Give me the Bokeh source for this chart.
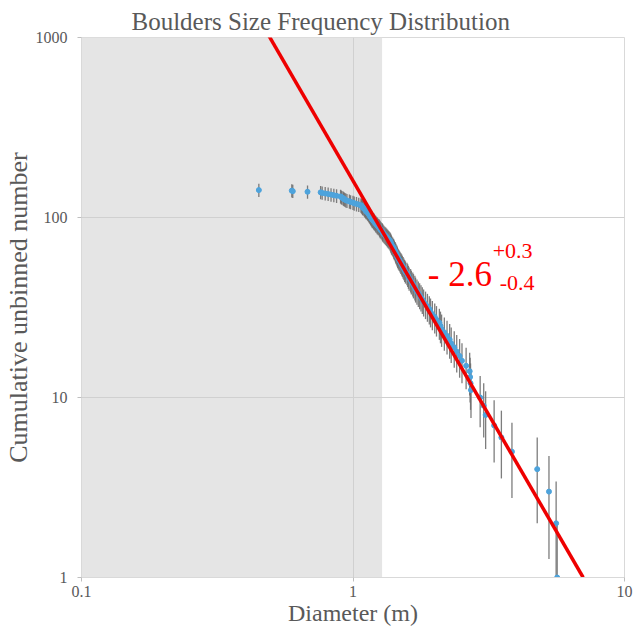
import numpy as np
from bokeh.plotting import figure
from bokeh.models import (BoxAnnotation, FixedTicker, CustomJSTickFormatter,
                          ColumnDataSource, Range1d)
from bokeh.core.properties import value
from bokeh.embed import file_html
from bokeh.resources import INLINE

# Boulder diameters (m), sorted from largest to smallest
diameter = [
    5.65, 5.60, 5.27, 4.77, 3.85, 3.52, 3.31, 3.08, 3.03, 2.94,
    2.72, 2.71, 2.70, 2.69, 2.61, 2.52, 2.47, 2.41, 2.36, 2.30,
    2.27, 2.22, 2.17, 2.12, 2.10, 2.08, 2.03, 2.00, 1.96, 1.93,
    1.91, 1.88, 1.85, 1.82, 1.80, 1.78, 1.76, 1.74, 1.72, 1.70,
    1.69, 1.67, 1.66, 1.64, 1.63, 1.61, 1.60, 1.59, 1.58, 1.56,
    1.55, 1.54, 1.53, 1.52, 1.51, 1.50, 1.49, 1.48, 1.47, 1.46,
    1.455, 1.45, 1.44, 1.435, 1.43, 1.42, 1.415, 1.41, 1.40, 1.39,
    1.385, 1.38, 1.375, 1.37, 1.36, 1.35, 1.34, 1.33, 1.32, 1.31,
    1.30, 1.29, 1.285, 1.28, 1.27, 1.26, 1.255, 1.25, 1.24, 1.23,
    1.225, 1.215, 1.21, 1.20, 1.195, 1.19, 1.18, 1.175, 1.17, 1.165,
    1.16, 1.155, 1.15, 1.145, 1.14, 1.135, 1.13, 1.12, 1.115, 1.11,
    1.105, 1.10, 1.09, 1.085, 1.08, 1.075, 1.07, 1.05, 1.03, 1.01,
    1.00, 0.98, 0.97, 0.95, 0.94, 0.93, 0.925, 0.92, 0.91, 0.905,
    0.90, 0.87, 0.85, 0.83, 0.81, 0.79, 0.77, 0.76, 0.68, 0.60,
    0.595, 0.45,
]
# Cumulative unbinned number (rank)
cumulative = [
    1, 2, 3, 4, 5, 6, 7, 8, 9, 10,
    11, 12, 13, 14, 15, 16, 17, 18, 19, 20,
    21, 22, 23, 24, 25, 26, 27, 28, 29, 30,
    31, 32, 33, 34, 35, 36, 37, 38, 39, 40,
    41, 42, 43, 44, 45, 46, 47, 48, 49, 50,
    51, 52, 53, 54, 55, 56, 57, 58, 59, 60,
    61, 62, 63, 64, 65, 66, 67, 68, 69, 70,
    71, 72, 73, 74, 75, 76, 77, 78, 79, 80,
    81, 82, 83, 84, 85, 86, 87, 88, 89, 90,
    91, 92, 93, 94, 95, 96, 97, 98, 99, 100,
    101, 102, 103, 104, 105, 106, 107, 108, 109, 110,
    111, 112, 113, 114, 115, 116, 117, 118, 119, 120,
    121, 122, 123, 124, 125, 126, 127, 128, 129, 130,
    131, 132, 133, 134, 135, 136, 137, 138, 139, 140,
    141, 142,
]

# Power-law fit N = A * D^slope, with its uncertainty
fit_slope = -2.6
fit_amplitude = 160.0
fit_n_top = 1000.0
fit_n_bottom = 1.0
slope_label = "- 2.6"
slope_err_plus = "+0.3"
slope_err_minus = "-0.4"

# Completeness limit (shaded region)
shade_left = 0.1
shade_right = 1.28

x_ticks = [0.1, 1, 10]
y_ticks = [1, 10, 100, 1000]

FONT = "Liberation Serif"
GREY_TXT = "#595959"

n = np.array(cumulative, dtype=float)
d = np.array(diameter, dtype=float)
err = np.sqrt(n)
lower = n - err
lower[lower <= 0] = 0.05
upper = n + err
src = ColumnDataSource(dict(d=d, n=n, lo=lower, hi=upper))

p = figure(width=638, height=634, x_axis_type="log", y_axis_type="log",
           x_range=Range1d(0.1, 10), y_range=Range1d(1, 1000),
           output_backend="svg", toolbar_location=None,
           min_border_left=80, min_border_right=14, min_border_top=37,
           min_border_bottom=57)

p.title.text = "Boulders Size Frequency Distribution"
p.title.text_font = FONT
p.title.text_font_size = "25px"
p.title.text_font_style = "normal"
p.title.text_color = GREY_TXT
p.title.align = "left"
p.title.offset = 50
p.title.standoff = 6

p.outline_line_color = "#d9d9d9"
p.background_fill_color = "white"
p.border_fill_color = "white"

box = BoxAnnotation(left=shade_left, right=shade_right, fill_color="#e5e5e5",
                    fill_alpha=1.0, line_color=None, level="image")
p.add_layout(box)

for g in (p.xgrid, p.ygrid):
    g.grid_line_color = "#d0d0d0"
    g.grid_line_width = 1
    g.minor_grid_line_color = None

p.xaxis.ticker = FixedTicker(ticks=x_ticks)
p.yaxis.ticker = FixedTicker(ticks=y_ticks)
for ax in (p.xaxis[0], p.yaxis[0]):
    ax.formatter = CustomJSTickFormatter(code="return tick.toString();")
    ax.axis_line_color = "#d9d9d9"
    ax.major_tick_line_color = "#bfbfbf"
    ax.major_tick_out = 4
    ax.major_tick_in = 0
    ax.minor_tick_line_color = None
    ax.major_label_text_font = FONT
    ax.major_label_text_font_size = "16px"
    ax.major_label_text_color = GREY_TXT
    ax.axis_label_text_font = FONT
    ax.axis_label_text_font_style = "normal"
    ax.axis_label_text_color = GREY_TXT

p.xaxis.axis_label = "Diameter (m)"
p.xaxis.axis_label_text_font_size = "24px"
p.xaxis.major_label_standoff = 4
p.xaxis.axis_label_standoff = 0
p.yaxis.axis_label = "Cumulative unbinned number"
p.yaxis.axis_label_text_font_size = "26px"
p.yaxis.major_label_standoff = 10
p.yaxis.axis_label_standoff = 0

# error bars
p.segment(x0="d", y0="lo", x1="d", y1="hi", source=src,
          line_color="#6f6f6f", line_width=1.3, line_alpha=0.9)
# points
p.scatter(x="d", y="n", source=src, size=5, fill_color="#4da3dc",
          line_color="#4da3dc")

# fit line
fit_d_start = (fit_n_top / fit_amplitude) ** (1.0 / fit_slope)
fit_d_end = (fit_n_bottom / fit_amplitude) ** (1.0 / fit_slope)
fit_x = np.array([fit_d_start * 0.9, fit_d_end])
fit_y = fit_amplitude * fit_x ** fit_slope
p.line(fit_x, fit_y, line_color="#ee0000", line_width=3.5)

# slope annotation
p.text(x=[1.887], y=[48.2], text=[slope_label], text_font=value(FONT),
       text_font_size="35px", text_color="#ff0000", text_baseline="alphabetic")
p.text(x=[3.27], y=[65.5], text=[slope_err_plus], text_font=value(FONT),
       text_font_size="22px", text_color="#ff0000", text_baseline="alphabetic")
p.text(x=[3.47], y=[43.0], text=[slope_err_minus], text_font=value(FONT),
       text_font_size="22px", text_color="#ff0000", text_baseline="alphabetic")

open("out.html", "w").write(file_html(p, INLINE))
